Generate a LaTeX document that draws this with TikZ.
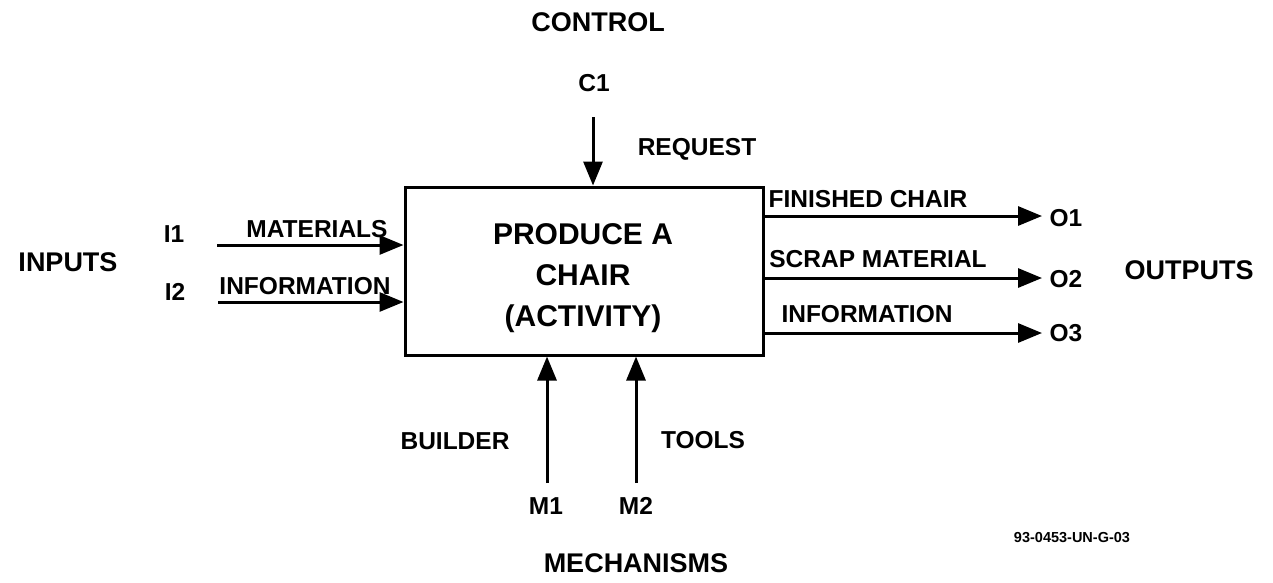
\documentclass[tikz,border=0pt]{standalone}
\usepackage{fontspec}
\setmainfont{Liberation Sans}
\usetikzlibrary{arrows.meta}
\begin{document}
\begin{tikzpicture}[x=1pt,y=-1pt,
  big/.style={font=\bfseries\fontsize{27}{30}\selectfont, inner sep=0pt},
  lab/.style={font=\bfseries\fontsize{24.5}{26}\selectfont, inner sep=0pt},
  boxtext/.style={font=\bfseries\fontsize{30}{41}\selectfont, align=center, inner sep=0pt},
  flow/.style={line width=3pt, -{Triangle[length=24pt,width=19pt]}},
  actbox/.style={draw, line width=3pt, minimum width=358pt, minimum height=168pt, inner sep=0pt}]
\useasboundingbox (0,0) rectangle (1273,582);
\node[actbox] (box) at (584,271) {};
\node[boxtext] (txt) at (583,278) {PRODUCE A\\CHAIR\\(ACTIVITY)};
% control
\node[big] (control) at (598,22) {CONTROL};
\node[lab] (c1) at (594,83) {C1};
\coordinate (c1s) at (593,117);
\draw[flow] (c1s) -- (c1s |- box.north);
\node[lab] (request) at (697,149) {REQUEST};
% inputs
\node[big] (inputs) at (68,262) {INPUTS};
\node[lab] (i1) at (174,234) {I1};
\node[lab] (i2) at (175,292) {I2};
\coordinate (i1s) at (217,245);
\coordinate (i2s) at (218,302);
\draw[flow] (i1s) -- (i1s -| box.west);
\draw[flow] (i2s) -- (i2s -| box.west);
\node[lab] (materials) at (317,229) {MATERIALS};
\node[lab] (info1) at (305,286) {INFORMATION};
% outputs
\node[big] (outputs) at (1189,270) {OUTPUTS};
\coordinate (o1s) at (763,216);
\coordinate (o2s) at (763,278);
\coordinate (o3s) at (763,333);
\coordinate (o1e) at (1042,216);
\coordinate (o2e) at (1042,278);
\coordinate (o3e) at (1042,333);
\draw[flow] (o1s) -- (o1e);
\draw[flow] (o2s) -- (o2e);
\draw[flow] (o3s) -- (o3e);
\node[lab] (o1) at (1066,218) {O1};
\node[lab] (o2) at (1066,279) {O2};
\node[lab] (o3) at (1066,333) {O3};
\node[lab] (fin) at (868,199) {FINISHED CHAIR};
\node[lab] (scrap) at (878,259) {SCRAP MATERIAL};
\node[lab] (info2) at (867,314) {INFORMATION};
% mechanisms
\coordinate (m1s) at (547,483);
\coordinate (m2s) at (636,483);
\draw[flow] (m1s) -- (m1s |- box.south);
\draw[flow] (m2s) -- (m2s |- box.south);
\node[lab] (builder) at (455,441) {BUILDER};
\node[lab] (tools) at (703,440) {TOOLS};
\node[lab] (m1) at (546,506) {M1};
\node[lab] (m2) at (636,506) {M2};
\node[big] (mech) at (636,563) {MECHANISMS};
\node[font=\bfseries\fontsize{14.5}{16}\selectfont, inner sep=0pt] (code) at (1072,538) {93-0453-UN-G-03};
\end{tikzpicture}
\end{document}
